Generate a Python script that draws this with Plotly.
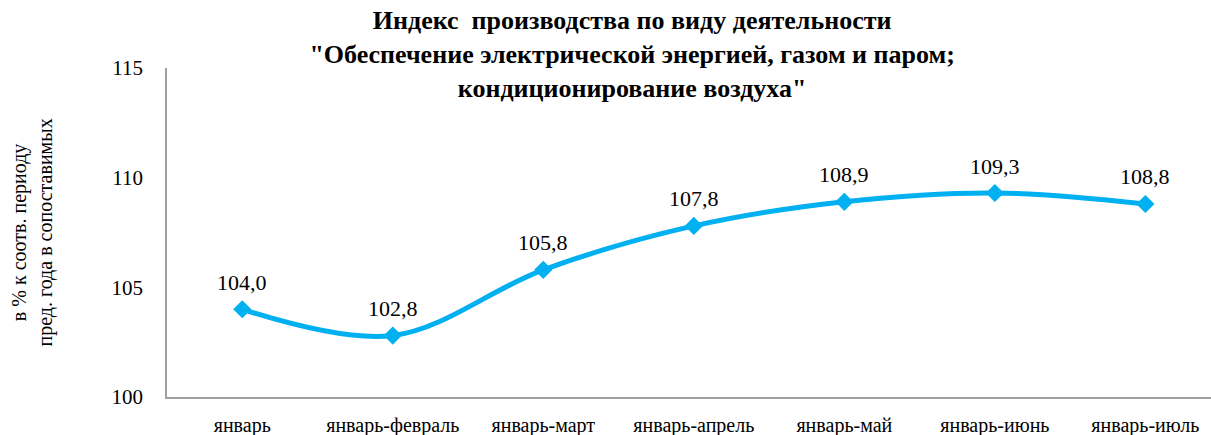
import plotly.graph_objects as go

categories = ["январь", "январь-февраль", "январь-март", "январь-апрель",
              "январь-май", "январь-июнь", "январь-июль"]
values = [104.0, 102.8, 105.8, 107.8, 108.9, 109.3, 108.8]
labels = ["104,0", "102,8", "105,8", "107,8", "108,9", "109,3", "108,8"]
y_ticks = [100, 105, 110, 115]

FONT = "Times New Roman, Liberation Serif, DejaVu Serif, serif"
BLUE = "#00B0F0"
L, R, T, B = 167, 0, 68, 38
W, H = 1211, 435

fig = go.Figure()
fig.add_trace(go.Scatter(
    x=list(range(len(categories))), y=values,
    mode="lines+markers",
    line=dict(color=BLUE, width=5, shape="spline", smoothing=1.0),
    marker=dict(symbol="diamond", size=14, color=BLUE),
    cliponaxis=False, showlegend=False, hoverinfo="skip",
))
for i, (v, t) in enumerate(zip(values, labels)):
    fig.add_annotation(x=i, y=v, text=t, showarrow=False, xanchor="center",
                       yanchor="middle", yshift=27,
                       font=dict(family=FONT, size=22, color="#000000"))

fig.add_annotation(
    text="в % к соотв. периоду<br>пред. года в сопоставимых",
    xref="paper", yref="paper", x=(32 - L) / (W - L - R), y=0.5,
    xanchor="center", yanchor="middle", textangle=-90, showarrow=False,
    font=dict(family=FONT, size=20, color="#000000"),
)

fig.update_layout(
    width=W, height=H,
    margin=dict(l=L, r=R, t=T, b=B),
    paper_bgcolor="white", plot_bgcolor="white",
    font=dict(family=FONT, color="#000000"),
    title=dict(
        text="<b>Индекс  производства по виду деятельности<br>\"Обеспечение электрической энергией, газом и паром;<br>кондиционирование воздуха\"</b>",
        x=0.522, xanchor="center", y=1 - 29 / H, yanchor="top",
        font=dict(family=FONT, size=26, color="#000000"),
        automargin=False,
    ),
)
fig.update_xaxes(
    tickmode="array", tickvals=list(range(len(categories))), ticktext=categories,
    range=[-0.5, 6.436], showgrid=False, zeroline=False,
    showline=True, linecolor="#A0A0A0", linewidth=1.5,
    tickfont=dict(family=FONT, size=20), ticks="", ticklabelstandoff=9,
    automargin=False,
)
fig.update_yaxes(
    range=[100, 115], tickvals=y_ticks, showgrid=False, zeroline=False,
    showline=True, linecolor="#A0A0A0", linewidth=1.5,
    tickfont=dict(family=FONT, size=21), ticks="", ticklabelstandoff=18,
    automargin=False,
)
fig.write_html("out.html", config={"displayModeBar": False},
               post_script="document.body.style.margin='0px';document.body.style.overflow='hidden';")
